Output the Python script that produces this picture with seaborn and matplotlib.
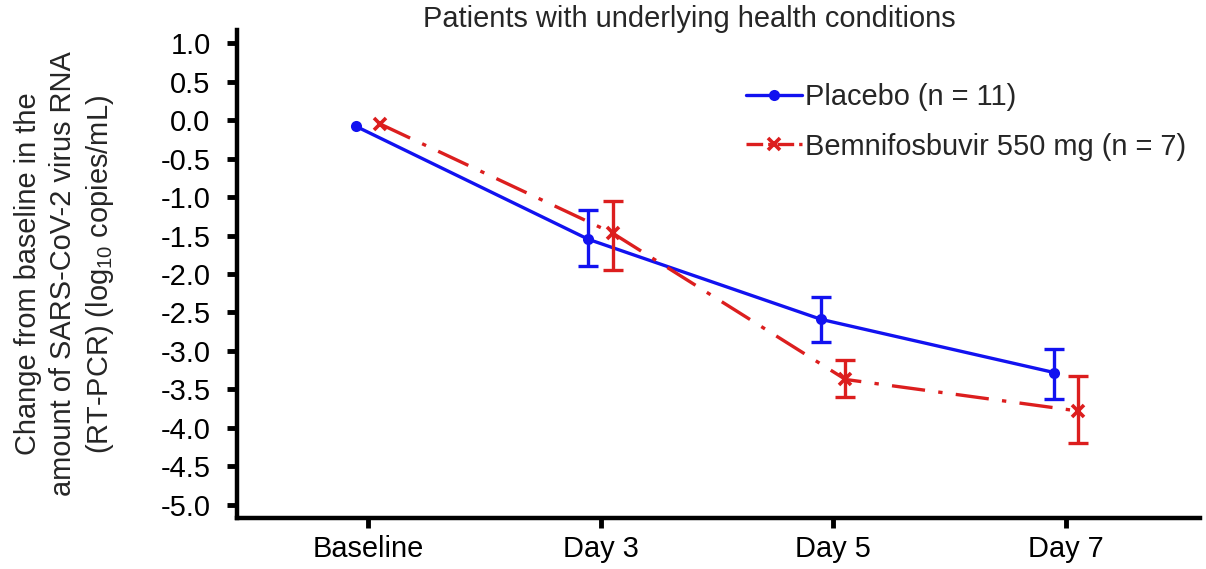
import matplotlib
matplotlib.use("Agg")
import matplotlib.pyplot as plt
import seaborn as sns
import pandas as pd
import numpy as np
from matplotlib.lines import Line2D

# ---- data ----
categories = ["Baseline", "Day 3", "Day 5", "Day 7"]
placebo_mean = [-0.08, -1.55, -2.59, -3.28]
placebo_low = [-0.08, -1.90, -2.88, -3.62]
placebo_high = [-0.08, -1.17, -2.30, -2.98]
bemni_mean = [-0.05, -1.47, -3.37, -3.78]
bemni_low = [-0.05, -1.95, -3.60, -4.20]
bemni_high = [-0.05, -1.05, -3.12, -3.33]
series_names = ["Placebo (n = 11)", "Bemnifosbuvir 550 mg (n = 7)"]
yticks = [1.0, 0.5, 0.0, -0.5, -1.0, -1.5, -2.0, -2.5, -3.0, -3.5, -4.0, -4.5, -5.0]

sns.set_theme(style="white")
plt.rcParams['font.family'] = ['Liberation Sans', 'DejaVu Sans']
plt.rcParams['mathtext.fontset'] = 'custom'
plt.rcParams['mathtext.rm'] = 'Liberation Sans'
plt.rcParams['mathtext.it'] = 'Liberation Sans'

FS = 20.9
blue = "#1212F0"
red = "#DC1E1E"

fig = plt.figure(figsize=(12.06, 5.69), dpi=100)
ax = fig.add_axes([237/1206, 1-518/569, (1200-237)/1206, (518-30)/569])

xb = np.arange(len(categories))
off = 0.052
df_p = pd.DataFrame({"x": xb - off, "y": placebo_mean})
df_b = pd.DataFrame({"x": xb + off, "y": bemni_mean})

sns.lineplot(data=df_p, x="x", y="y", ax=ax, color=blue, lw=2.4,
             marker="o", markersize=8, markeredgewidth=0, markeredgecolor=blue,
             markerfacecolor=blue, sort=False)
sns.lineplot(data=df_b, x="x", y="y", ax=ax, color=red, lw=2.4,
             linestyle=(0, (10, 4, 1.3, 4)),
             marker="x", markersize=8, markeredgewidth=2.6, markeredgecolor=red,
             sort=False)

pm = np.array(placebo_mean); bm = np.array(bemni_mean)
ax.errorbar(xb[1:] - off, pm[1:],
            yerr=[pm[1:] - np.array(placebo_low[1:]), np.array(placebo_high[1:]) - pm[1:]],
            fmt="none", ecolor=blue, elinewidth=2.4, capsize=7, capthick=2.4)
ax.errorbar(xb[1:] + off, bm[1:],
            yerr=[bm[1:] - np.array(bemni_low[1:]), np.array(bemni_high[1:]) - bm[1:]],
            fmt="none", ecolor=red, elinewidth=2.4, capsize=7, capthick=2.4)

ax.set_xlim(-0.562, 3.575)
ax.set_ylim(-5.17, 1.17)
ax.set_xticks(xb)
ax.set_xticklabels(categories, fontsize=FS)
ax.set_yticks(yticks)
ax.set_yticklabels([f"{v:.1f}" for v in yticks], fontsize=FS)
for s in ["top", "right"]:
    ax.spines[s].set_visible(False)
for s in ["left", "bottom"]:
    ax.spines[s].set_linewidth(3.2)
    ax.spines[s].set_color("black")
ax.tick_params(axis="y", direction="out", length=7, width=3.5, colors="black",
               left=True, pad=12)
ax.tick_params(axis="x", direction="out", length=7, width=3.5, colors="black",
               bottom=True, pad=5)
ax.set_xlabel("")
ax.set_ylabel("Change from baseline in the\namount of SARS-CoV-2 virus RNA\n(RT-PCR) (log$_{10}$ copies/mL)",
              fontsize=FS, linespacing=1.3, labelpad=32)

handles = [
    Line2D([], [], color=blue, lw=2.4, marker="o", markersize=8, markeredgewidth=0),
    Line2D([], [], color=red, lw=2.4, linestyle=(0, (5, 1.5, 1.3, 1.5)), marker="x",
           markersize=8, markeredgewidth=2.6),
]
ax.legend(handles, series_names, loc="upper left", bbox_to_anchor=(0.516, 0.915),
          frameon=False, fontsize=FS, handlelength=1.95, handletextpad=0.1,
          labelspacing=0.74, borderaxespad=0)

fig.text(689/1206, 1-19/569, "Patients with underlying health conditions",
         fontsize=FS, ha="center", va="center")

fig.savefig("out.png", dpi=100)
